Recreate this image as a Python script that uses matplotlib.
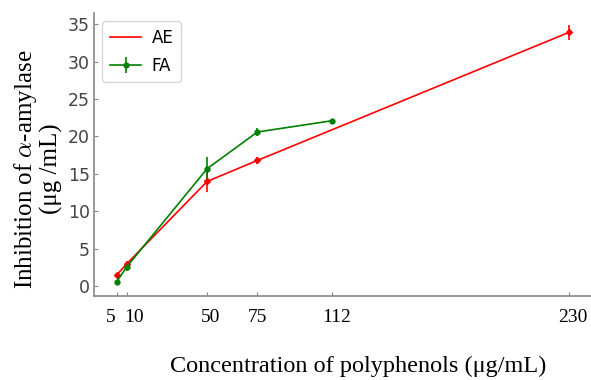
import numpy as np
import matplotlib
matplotlib.use('Agg')
import matplotlib.pyplot as plt
import matplotlib.transforms as mtransforms
from matplotlib.lines import Line2D

plt.rcParams['mathtext.fontset'] = 'cm'

# data
ae_x = [5, 10, 50, 75, 230]
ae_y = [1.5, 3.0, 14.0, 16.8, 33.9]
ae_err = [0.3, 0.4, 1.4, 0.5, 1.0]

fa_x = [5, 10, 50, 75, 112]
fa_y = [0.6, 2.6, 15.7, 20.6, 22.1]
fa_err = [0.2, 0.5, 1.6, 0.5, 0.2]

xticks = [5, 10, 50, 75, 112, 230]
yticks = [0, 5, 10, 15, 20, 25, 30, 35]
# small sideways nudges of the x tick labels (pixels), as in the reference
xlabel_shift = [-6, 7, 3, 0, 5, 4]

fig = plt.figure(figsize=(5.91, 3.80), dpi=100)
ax = fig.add_axes([0.159, 0.221, 0.841, 0.745])

ax.errorbar(ae_x, ae_y, yerr=ae_err, color='red', lw=1.2, marker='D', ms=3)
fa = ax.errorbar(fa_x, fa_y, yerr=fa_err, color='green', lw=1.2, marker='o', ms=3.5)

ax.set_xlim(-6.3, 241)
ax.set_ylim(-1.3, 36.5)
ax.set_xticks(xticks)
ax.set_yticks(yticks)
ax.tick_params(direction='in', length=3, color='#888888')
ax.tick_params(axis='x', pad=9)
ax.tick_params(axis='y', pad=3, labelcolor='#444444')
for lab in ax.get_yticklabels():
    lab.set_family(['Liberation Sans Narrow', 'DejaVu Sans'])
    lab.set_fontsize(12.5)
for lab, dx in zip(ax.get_xticklabels(), xlabel_shift):
    lab.set_family('Liberation Serif')
    lab.set_fontsize(14)
    lab.set_transform(lab.get_transform() +
                      mtransforms.ScaledTranslation(dx / 100, 0, fig.dpi_scale_trans))
for s in ['top', 'right']:
    ax.spines[s].set_visible(False)
for s in ['left', 'bottom']:
    ax.spines[s].set_color('#888888')
    ax.spines[s].set_linewidth(1.2)

ax.set_xlabel('Concentration of polyphenols (μg/mL)', family='Liberation Serif',
              fontsize=17.5)
ax.xaxis.set_label_coords(0.532, -0.21)
ax.set_ylabel('Inhibition of $\\alpha$-amylase\n(μg /mL)', family='Liberation Serif',
              fontsize=18, linespacing=1.05)
ax.yaxis.set_label_coords(-0.062, 0.449)

ax.legend([Line2D([], [], color='red', lw=1.2), fa], ['AE', 'FA'],
          loc='upper left', fontsize=12, handlelength=1.9, handletextpad=0.6,
          borderpad=0.45, labelspacing=0.6, borderaxespad=0.5)

fig.savefig('out.png', dpi=100)
